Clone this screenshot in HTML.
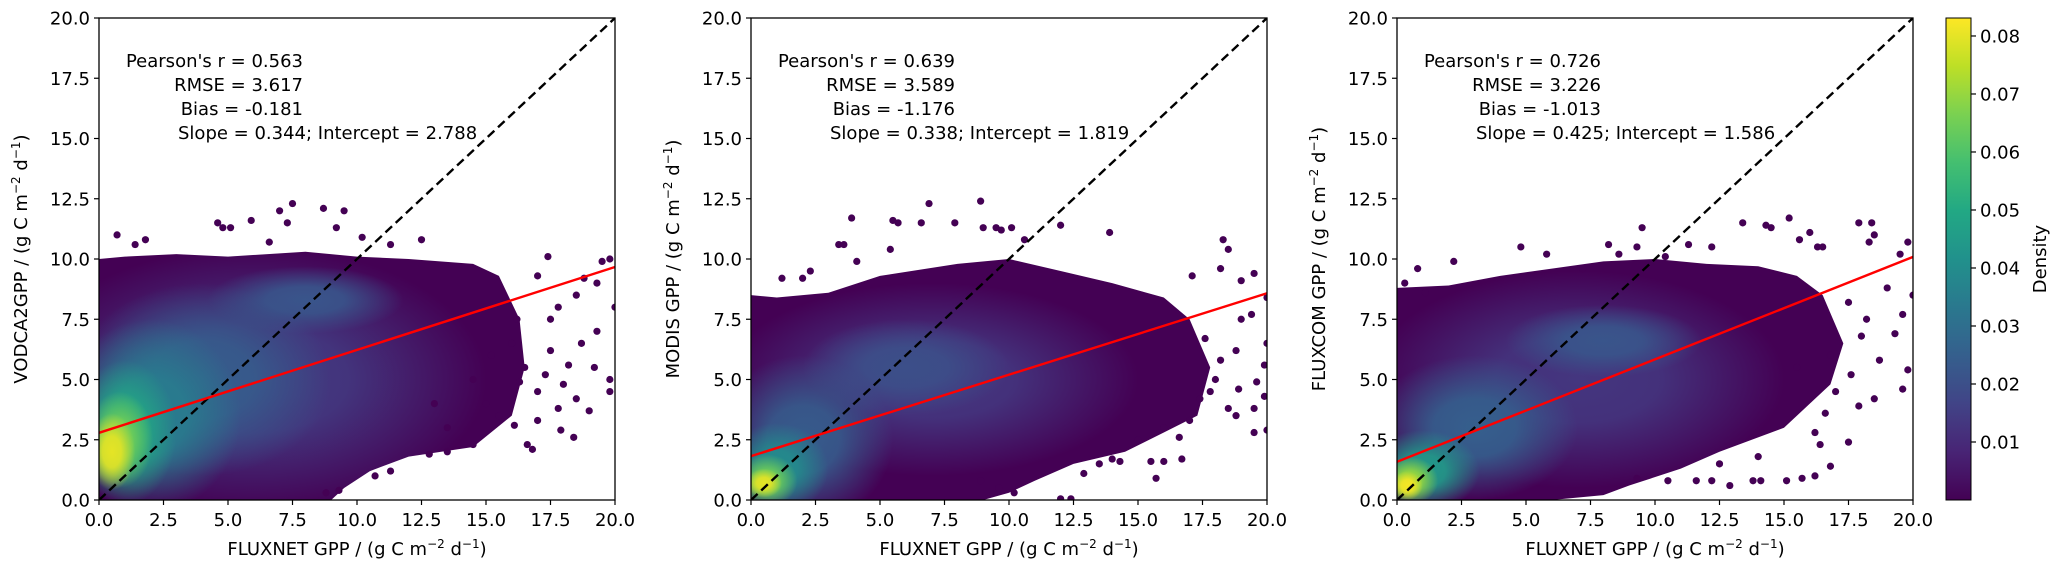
<!DOCTYPE html>
<html><head><meta charset="utf-8">
<style>
html,body{margin:0;padding:0;background:#fff;}
svg{display:block;font-family:"DejaVu Sans","Liberation Sans",sans-serif;}
</style></head>
<body>
<svg id="fig" width="2067" height="570" viewBox="0 0 2067 570" xmlns="http://www.w3.org/2000/svg"></svg>
<script>
// ---- data ----
const xTicks = [0, 2.5, 5, 7.5, 10, 12.5, 15, 17.5, 20];
const yTicks = [0, 2.5, 5, 7.5, 10, 12.5, 15, 17.5, 20];
const cbTicks = [0.01, 0.02, 0.03, 0.04, 0.05, 0.06, 0.07, 0.08];
const cbMax = 0.0831;
const panelNames = ["VODCA2GPP", "MODIS GPP", "FLUXCOM GPP"];
const pearson = ["0.563", "0.639", "0.726"];
const rmse = ["3.617", "3.589", "3.226"];
const bias = ["-0.181", "-1.176", "-1.013"];
const slopes = [0.344, 0.338, 0.425];
const intercepts = [2.788, 1.819, 1.586];
// cloud envelopes [x,y]
const env1 = [[0,0],[0,10],[1,10.1],[3,10.2],[5,10.1],[8,10.3],[10,10.1],[12,10],[14.5,9.8],[15.5,9.3],[16.3,7.5],[16.5,5.5],[16,3.5],[14.5,2.2],[12,1.8],[10.5,1.2],[9.5,0.5],[9,0]];
const env2 = [[0,0],[0,8.5],[1,8.4],[3,8.6],[5,9.3],[8,9.8],[10,10],[12,9.5],[14,9],[16,8.4],[17,7.5],[17.8,5.5],[17.3,3.5],[16,2.8],[14.5,2],[12.5,1.5],[11,0.8],[10,0.3],[9,0]];
const env3 = [[0,0],[0,8.8],[2,8.9],[4,9.3],[6,9.6],[8,9.9],[10,10],[12,9.8],[14,9.7],[15.5,9.3],[16.5,8.5],[17.3,6.5],[16.8,4.8],[15,3],[12.5,2],[11,1.3],[9,0.6],[8,0.2],[6,0]];
// density blobs [cx, cy, rx, ry, density]
const blobs1 = [[6,5,9,5.5,0.014],[8,8.3,3.8,1.4,0.022],[4,5,5,4,0.024],[2,3.5,3.5,4,0.035],[1,2.8,2,3,0.05],[0.8,2.5,1.3,2,0.065],[0.5,2,0.9,1.6,0.08]];
const blobs2 = [[7,5,8,4,0.013],[6,5.5,4,2,0.02],[2,2.5,3.5,3.5,0.024],[1,1.3,2,1.9,0.04],[0.6,0.8,1.2,1.1,0.065],[0.5,0.7,0.7,0.6,0.08]];
const blobs3 = [[7,5,8,4.5,0.013],[8,6.6,3.8,1.5,0.022],[3,3,4,3,0.025],[1,1.2,2.2,1.7,0.045],[0.5,0.8,1.1,1,0.07],[0.4,0.6,0.6,0.6,0.082]];
// outlier points [x,y]
const pts1 = [[0.7,11],[1.4,10.6],[1.8,10.8],[4.6,11.5],[4.8,11.3],[5.1,11.3],[5.9,11.6],[7.0,12.0],[7.5,12.3],[8.7,12.1],[9.5,12.0],[7.3,11.5],[6.6,10.7],[9.2,11.3],[10.2,10.9],[12.5,10.8],[11.3,10.6],[17.4,10.1],[19.8,10],[19.5,9.9],[17,9.3],[18.8,9.2],[20,8.0],[19.3,7],[19.8,5.0],[19.8,4.5],[19,3.7],[18.4,2.6],[17.9,2.9],[17,3.3],[16.8,2.1],[16.6,2.3],[17,4.5],[18,4.8],[18.5,4.2],[19.2,5.5],[18.7,6.5],[17.5,6.2],[16.2,7.5],[17.8,8],[16.5,5.5],[15.5,3.5],[14.5,2.3],[13.5,2.0],[12.8,1.9],[11.3,1.2],[10.7,1.0],[9.3,0.4],[8.8,0.3],[13.5,3.0],[15,4],[16,6.5],[15.2,6],[14.5,5],[13,4],[17.5,7.5],[18.5,8.5],[19.3,9],[16.3,4.9],[17.3,5.2],[16.1,3.1],[18.2,5.6],[17.8,3.8]];
const pts2 = [[1.2,9.2],[2,9.2],[2.3,9.5],[3.4,10.6],[3.6,10.6],[3.9,11.7],[4.1,9.9],[5.4,10.4],[5.5,11.6],[5.7,11.5],[6.6,11.5],[6.9,12.3],[7.9,11.5],[8.9,12.4],[9,11.3],[9.5,11.3],[9.7,11.2],[10.1,11.3],[12,11.4],[13.9,11.1],[10.6,10.8],[18.3,10.8],[18.5,10.4],[18.2,9.6],[17.1,9.3],[19.5,9.4],[19,9.1],[20,8.4],[19.4,7.7],[20,6.5],[19.9,5.6],[19.6,4.9],[19.9,4.3],[19.5,3.8],[18.8,3.5],[19.5,2.8],[20,2.9],[18.5,3.8],[17.8,4.5],[17,3.3],[16.7,1.7],[16,1.6],[15.5,1.6],[15.7,0.9],[14,1.7],[14.3,1.6],[13.5,1.5],[12.9,1.1],[12.4,0.05],[12,0.05],[10.2,0.3],[9.6,0.5],[8.9,0.8],[15,2.5],[16,3],[18,5],[18.8,6.2],[17.6,6.7],[19,7.5],[18.2,5.8],[17.4,4.2],[16.6,2.6],[18.9,4.6]];
const pts3 = [[0.3,9],[0.8,9.6],[1.1,8.6],[2.2,9.9],[4.8,10.5],[5.8,10.2],[7.2,9.6],[8.2,10.6],[9.5,11.3],[9.3,10.5],[8.6,10.2],[10.4,10.1],[11.3,10.6],[12.2,10.5],[13.4,11.5],[14.3,11.4],[14.5,11.3],[15.2,11.7],[15.6,10.8],[16,11.1],[16.3,10.5],[16.5,10.5],[17.9,11.5],[18.4,11.5],[18.5,11],[18.3,10.7],[19.8,10.7],[19.5,10.2],[20,8.5],[19.6,7.7],[19.3,6.9],[19.8,5.4],[19.6,4.6],[18.5,4.2],[17.9,3.9],[17.5,2.4],[16.8,1.4],[16.4,2.3],[16.2,1.0],[15.7,0.9],[15.1,0.8],[14.1,0.8],[13.8,0.8],[12.9,0.6],[12.2,0.8],[11.6,0.8],[10.5,0.8],[9.3,0.9],[14,1.8],[12.5,1.5],[16.2,2.8],[17,4.5],[18.7,5.8],[18,6.8],[17.5,8.2],[16.8,6],[15.5,5.5],[17.6,5.2],[18.2,7.5],[16.6,3.6],[19,8.8]];
const envs = [env1, env2, env3];
const blobSets = [blobs1, blobs2, blobs3];
const ptSets = [pts1, pts2, pts3];

// ---- layout ----
const NS = "http://www.w3.org/2000/svg";
const svg = document.getElementById("fig");
const panelLeft = [99, 751, 1397];
const PW = 516, PT = 18, PB = 500;
const FS = 18;
function mk(tag, attrs, parent) {
  const e = document.createElementNS(NS, tag);
  for (const k in attrs) e.setAttribute(k, attrs[k]);
  (parent || svg).appendChild(e);
  return e;
}
const vStops = ["#440154","#482475","#414487","#355f8d","#2a788e","#21918c","#22a884","#44bf70","#7ad151","#bddf26","#fde725"];
function hex(c){return [parseInt(c.slice(1,3),16),parseInt(c.slice(3,5),16),parseInt(c.slice(5,7),16)];}
function viridis(t){
  t=Math.max(0,Math.min(1,t));
  const f=t*10, i=Math.min(9,Math.floor(f)), r=f-i;
  const a=hex(vStops[i]), b=hex(vStops[i+1]);
  return "rgb("+a.map((v,k)=>Math.round(v+(b[k]-v)*r)).join(",")+")";
}
const defs = mk("defs", {});

const cg = mk("linearGradient", {id:"cbgrad", x1:"0", y1:"1", x2:"0", y2:"0"}, defs);
for (let i=0;i<=20;i++){ mk("stop",{offset:(i/20),"stop-color":viridis(i/20)},cg); }

panelLeft.forEach((L, p) => {
  const sx = v => L + v/20*PW;
  const sy = v => PB - v/20*(PB-PT);
  const g = mk("g", {});
  
  
  const cp = mk("clipPath", {id:"env"+p}, defs);
  const envPts = envs[p].map(d => sx(d[0])+","+sy(d[1])).join(" ");
  mk("polygon", {points: envPts}, cp);
  const cloud = mk("polygon", {points: envPts, fill:"#440154"}, g);
  
  
  const bg = mk("g", {"clip-path":"url(#env"+p+")"}, g);
  blobSets[p].forEach((b, i) => {
    const col = viridis(b[4]/cbMax);
    const gid = "bl"+p+"_"+i;
    const rg = mk("radialGradient", {id:gid}, defs);
    mk("stop",{offset:"0","stop-color":col,"stop-opacity":"1"},rg);
    mk("stop",{offset:"0.4","stop-color":col,"stop-opacity":"0.9"},rg);
    mk("stop",{offset:"1","stop-color":col,"stop-opacity":"0"},rg);
    const el = mk("ellipse", {cx:sx(b[0]), cy:sy(b[1]), rx:b[2]/20*PW, ry:b[3]/20*(PB-PT), fill:"url(#"+gid+")"}, bg);
    
    
  });
  const pc = mk("clipPath", {id:"ax"+p}, defs);
  mk("rect", {x:L, y:PT, width:PW, height:PB-PT}, pc);
  const pg = mk("g", {"clip-path":"url(#ax"+p+")"}, g);
  ptSets[p].forEach(d => {
    const c = mk("circle", {cx:sx(d[0]), cy:sy(d[1]), r:3.6, fill:"#440154"}, pg);
    
    
  });
  const ol = mk("line", {x1:sx(0), y1:sy(0), x2:sx(20), y2:sy(20), stroke:"#000", "stroke-width":2.4, "stroke-dasharray":"9,5"}, pg);
  
  
  const rl = mk("line", {x1:sx(0), y1:sy(intercepts[p]), x2:sx(20), y2:sy(intercepts[p]+slopes[p]*20), stroke:"#ff0000", "stroke-width":2.4}, pg);
  
  
  const fr = mk("rect", {x:L, y:PT, width:PW, height:PB-PT, fill:"none", stroke:"#000", "stroke-width":1.3}, g);
  
  
  xTicks.forEach(t => {
    mk("line", {x1:sx(t), y1:PB, x2:sx(t), y2:PB+5, stroke:"#000", "stroke-width":1.2}, g);
    const tx = mk("text", {x:sx(t), y:PB+26, "text-anchor":"middle", "font-size":FS}, g);
    tx.textContent = t.toFixed(1);
    
    
  });
  yTicks.forEach(t => {
    mk("line", {x1:L-5, y1:sy(t), x2:L, y2:sy(t), stroke:"#000", "stroke-width":1.2}, g);
    const tx = mk("text", {x:L-9, y:sy(t)+6.5, "text-anchor":"end", "font-size":FS}, g);
    tx.textContent = t.toFixed(1);
    
    
  });
  const xl = mk("text", {x:L+PW/2, y:555, "text-anchor":"middle", "font-size":FS}, g);
  xl.innerHTML = 'FLUXNET GPP / (g C m<tspan dy="-7" font-size="12">−2</tspan><tspan dy="7"> d</tspan><tspan dy="-7" font-size="12">−1</tspan><tspan dy="7">)</tspan>';
  
  
  const yx = L-72, yy = (PT+PB)/2;
  const yl = mk("text", {x:yx, y:yy, "text-anchor":"middle", "font-size":FS, transform:"rotate(-90 "+yx+" "+yy+")"}, g);
  yl.innerHTML = panelNames[p] + ' / (g C m<tspan dy="-7" font-size="12">−2</tspan><tspan dy="7"> d</tspan><tspan dy="-7" font-size="12">−1</tspan><tspan dy="7">)</tspan>';
  
  
  const lines = ["Pearson's r = " + pearson[p], "RMSE = " + rmse[p], "Bias = " + bias[p]];
  lines.forEach((s, i) => {
    const t = mk("text", {x:L+204, y:67+i*24, "text-anchor":"end", "font-size":FS}, g);
    t.textContent = s;
    
    
  });
  const t4 = mk("text", {x:L+79, y:139, "text-anchor":"start", "font-size":FS}, g);
  t4.textContent = "Slope = " + slopes[p].toFixed(3) + "; Intercept = " + intercepts[p].toFixed(3);
  
  
});

const cbX = 1946, cbW = 25;
const cby = v => PB - v/cbMax*(PB-PT);
const cb = mk("rect", {x:cbX, y:PT, width:cbW, height:PB-PT, fill:"url(#cbgrad)", stroke:"#000", "stroke-width":1}, svg);


cbTicks.forEach(t => {
  mk("line", {x1:cbX+cbW, y1:cby(t), x2:cbX+cbW+5, y2:cby(t), stroke:"#000", "stroke-width":1.2});
  const tx = mk("text", {x:cbX+cbW+9, y:cby(t)+6.5, "font-size":FS});
  tx.textContent = t.toFixed(2);
  
  
});
const dl = mk("text", {x:2046, y:259, "text-anchor":"middle", "font-size":FS, transform:"rotate(-90 2046 259)"});
dl.textContent = "Density";


</script>
</body></html>
